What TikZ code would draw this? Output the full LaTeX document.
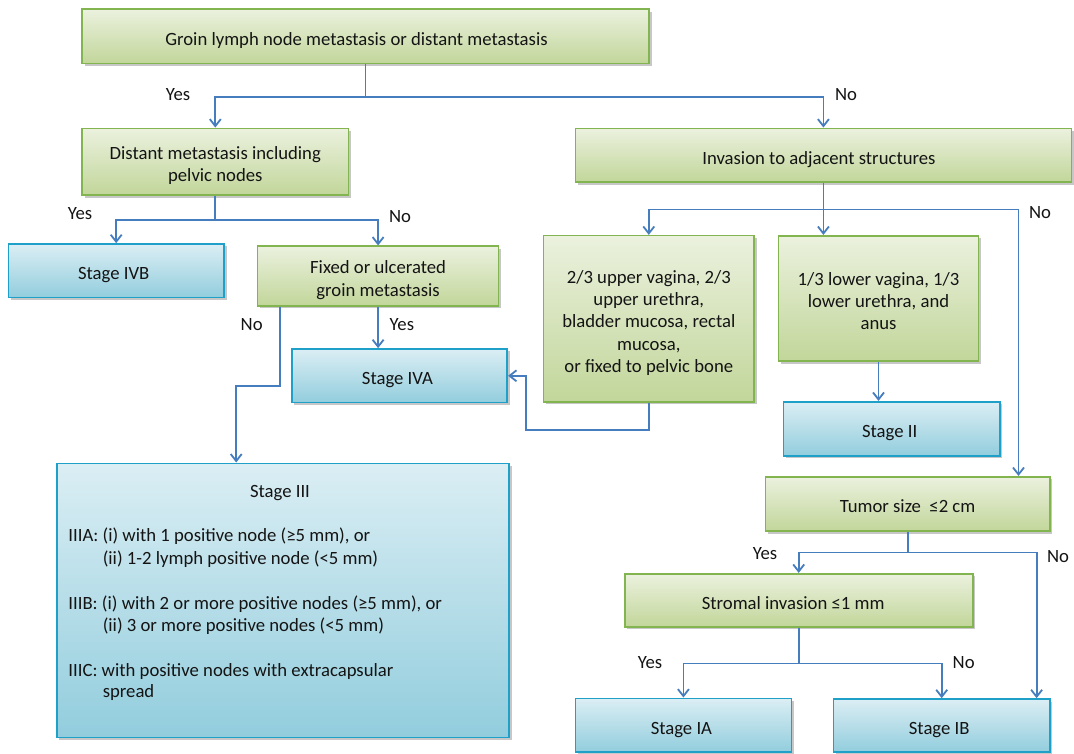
\documentclass[tikz,border=0pt]{standalone}
\usepackage{fontspec}
\setmainfont{Carlito}
\usetikzlibrary{arrows.meta,shadows}

\definecolor{gtop}{RGB}{235,241,222}
\definecolor{gbot}{RGB}{194,214,154}
\definecolor{gline}{RGB}{130,180,80}
\definecolor{btop}{RGB}{219,238,244}
\definecolor{bbot}{RGB}{146,205,221}
\definecolor{bline}{RGB}{30,160,200}
\definecolor{conn}{RGB}{70,125,190}

% line struts: every text line gets the same depth, the first line extra head room
\newcommand\ls{\rule[-4pt]{0pt}{18pt}}
\newcommand\fs{\rule{0pt}{22pt}\ls}

\begin{document}
\begin{tikzpicture}[x=1pt,y=-1pt,
  every node/.style={font=\fontsize{18.7}{22.3}\selectfont, text=black!92},
  box/.style={line width=1.6pt, inner sep=2pt, align=center,
    drop shadow={shadow xshift=2.5pt, shadow yshift=-2.5pt, opacity=0.22, fill=black}},
  gbox/.style={box, draw=gline, top color=gtop, bottom color=gbot},
  bbox/.style={box, draw=bline, top color=btop, bottom color=bbot},
  arr/.style={draw=conn, line width=1.8pt, -{Straight Barb[length=7pt,width=11pt]}},
  lbl/.style={inner sep=0pt},
  txt/.style={inner sep=0pt, anchor=west, text height=14pt, text depth=2pt}
]
\useasboundingbox (0,0) rectangle (1074,754);

% decision boxes (green)
\node[gbox, minimum width=567pt, minimum height=54.5pt] (top) at (365.5,36.3)
  {\fs Groin lymph node metastasis or distant metastasis\hspace{18pt}};
\node[gbox, minimum width=266.5pt, minimum height=66.7pt] (distant) at (215.3,161.7)
  {\fs Distant metastasis including\\\ls pelvic nodes};
\node[gbox, minimum width=241pt, minimum height=59.4pt] (fixed) at (378.1,276)
  {\fs Fixed or ulcerated\\\ls groin metastasis};
\node[gbox, minimum width=495.8pt, minimum height=53.7pt] (inv) at (823.4,155.2)
  {\fs Invasion to adjacent structures\hspace{9pt}};
\node[gbox, minimum width=210.5pt, minimum height=166pt] (upper) at (648.8,318.7)
  {\fs 2/3 upper vagina, 2/3\\\ls upper urethra,\\\ls bladder mucosa, rectal\\\ls mucosa,\\\ls or fixed to pelvic bone};
\node[gbox, minimum width=200.2pt, minimum height=125.3pt] (lower) at (878.5,298.4)
  {\fs 1/3 lower vagina, 1/3\\\ls lower urethra, and\\\ls anus};
\node[gbox, minimum width=284.5pt, minimum height=54.3pt] (tumor) at (907.6,503.9)
  {\fs Tumor size~ ≤2 cm};
\node[gbox, minimum width=348pt, minimum height=53pt] (stromal) at (798.7,600.2)
  {\fs Stromal invasion ≤1 mm\hspace{11pt}};

% stage boxes (blue)
\node[bbox, minimum width=215.7pt, minimum height=53.7pt] (ivb) at (116.2,270.8)
  {\fs Stage IVB\hspace{5pt}};
\node[bbox, minimum width=215.5pt, minimum height=53.7pt] (iva) at (399.5,375.8)
  {\fs Stage IVA\hspace{4pt}};
\node[bbox, minimum width=452.2pt, minimum height=274pt] (iii) at (282.9,600.3) {};
\node[bbox, minimum width=216.2pt, minimum height=54pt] (ii) at (891.7,428.7)
  {\fs Stage II\hspace{4pt}};
\node[bbox, minimum width=215.8pt, minimum height=53.7pt] (ia) at (683.4,725.2)
  {\fs Stage IA\hspace{4pt}};
\node[bbox, minimum width=216.2pt, minimum height=53pt] (ib) at (941.7,725.5)
  {\fs Stage IB\hspace{5pt}};

% Stage III contents
\node[txt, anchor=center] (iiit) at (280,491.5) {Stage III};
\node[txt] (a1) at (68.2,535) {IIIA: (i) with 1 positive node (≥5 mm), or};
\node[txt] (a2) at (102.6,558) {(ii) 1-2 lymph positive node (<5 mm)};
\node[txt] (b1) at (68.2,603) {IIIB: (i) with 2 or more positive nodes (≥5 mm), or};
\node[txt] (b2) at (102.6,625) {(ii) 3 or more positive nodes (<5 mm)};
\node[txt] (c1) at (68.2,670) {IIIC: with positive nodes with extracapsular};
\node[txt] (c2) at (102.6,691.7) {spread};

% connectors
\draw[arr] (top.south) -- +(0,32.3) -| (distant.north);
\draw[arr] (top.south) -- +(0,32.3) -| (inv.north);

\draw[arr] (distant.south) -- +(0,24.3) -| (ivb.north);
\draw[arr] (distant.south) -- +(0,24.3) -| (fixed.north);

\draw[arr] (fixed.south) -- (fixed.south |- iva.north);
\draw[arr] ([xshift=-98pt]fixed.south) -- +(0,79.3) -| ([xshift=-46.7pt]iii.north);

\draw[arr] (inv.south) -- +(0,26.7) -| (upper.north);
\draw[arr] (inv.south) -- (inv.south |- lower.north);
\draw[arr] (inv.south) -- +(0,26.7) -| ([xshift=110.9pt]tumor.north);

\draw[arr] (upper.south) -- +(0,27.6) -| ([xshift=18pt]iva.east) -- (iva.east);
\draw[arr] (lower.south) -- (lower.south |- ii.north);

\draw[arr] (tumor.south) -- +(0,20.7) -| (stromal.north);
\draw[arr] (tumor.south) -- +(0,20.7) -| ([xshift=94.9pt]ib.north);

\draw[arr] (stromal.south) -- +(0,36) -| (ia.north);
\draw[arr] (stromal.south) -- +(0,36) -| (ib.north);

% branch labels
\node[lbl] (y1) at (178,95) {Yes};
\node[lbl] (n1) at (846,95) {No};
\node[lbl] (y2) at (80,214) {Yes};
\node[lbl] (n2) at (400,217) {No};
\node[lbl] (n3) at (251.7,325) {No};
\node[lbl] (y3) at (401.9,325) {Yes};
\node[lbl] (n4) at (1040,213) {No};
\node[lbl] (y4) at (765,554) {Yes};
\node[lbl] (n5) at (1058,557) {No};
\node[lbl] (y5) at (650,663) {Yes};
\node[lbl] (n6) at (963.7,663) {No};
\end{tikzpicture}
\end{document}
